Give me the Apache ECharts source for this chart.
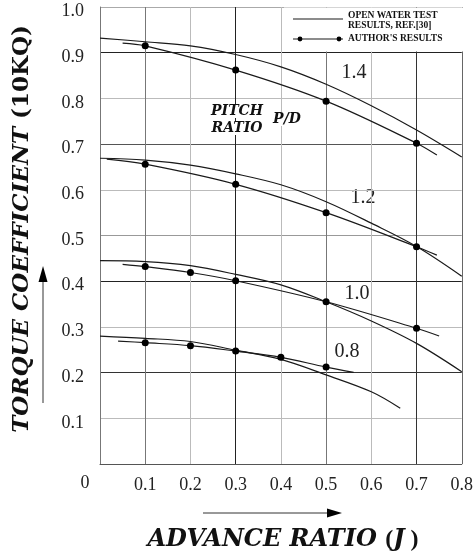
<!DOCTYPE html>
<html>
<head>
<meta charset="utf-8">
<script src="https://cdn.jsdelivr.net/npm/echarts@6/dist/echarts.min.js"></script>
<style>
  html, body { margin: 0; padding: 0; background: #fff; }
  #chart { width: 476px; height: 557px; }
</style>
</head>
<body>
<div id="chart"></div>
<script>
// advance ratio J (x) and torque coefficient 10KQ (y)
var pitchRatios = ['1.4', '1.2', '1.0', '0.8'];

// open water test results (plain curves)
var openJ = [0, 0.1, 0.2, 0.3, 0.4, 0.5, 0.6, 0.7, 0.8];
var open14 = [0.932, 0.924, 0.915, 0.896, 0.869, 0.831, 0.784, 0.731, 0.672];
var open12 = [0.669, 0.665, 0.654, 0.635, 0.611, 0.574, 0.527, 0.476, 0.411];
var open10 = [0.445, 0.443, 0.434, 0.415, 0.392, 0.355, 0.313, 0.264, 0.202];
var openJ08 = [0, 0.1, 0.2, 0.3, 0.4, 0.5, 0.6, 0.664];
var open08 = [0.280, 0.275, 0.268, 0.249, 0.229, 0.195, 0.158, 0.122];

// author's results: first and last point are curve ends, the rest are dots
var authJ14 = [0.05, 0.1, 0.3, 0.5, 0.7, 0.745];
var auth14 = [0.921, 0.915, 0.862, 0.794, 0.702, 0.676];
var authJ12 = [0.015, 0.1, 0.3, 0.5, 0.7, 0.745];
var auth12 = [0.667, 0.656, 0.612, 0.550, 0.4755, 0.457];
var authJ10 = [0.05, 0.1, 0.2, 0.3, 0.5, 0.7, 0.75];
var auth10 = [0.437, 0.432, 0.419, 0.401, 0.355, 0.297, 0.280];
var authJ08 = [0.04, 0.1, 0.2, 0.3, 0.4, 0.5, 0.561];
var auth08 = [0.269, 0.2655, 0.259, 0.247, 0.2335, 0.212, 0.2006];

var xTicks = ['0.1', '0.2', '0.3', '0.4', '0.5', '0.6', '0.7', '0.8'];
var yTicks = ['0.1', '0.2', '0.3', '0.4', '0.5', '0.6', '0.7', '0.8', '0.9', '1.0'];

var ink = '#1a1a1a';
var serif = '"Liberation Serif", "Times New Roman", serif';
var boldItalic = '"DejaVu Serif", serif';

function pairs(xs, ys) {
  return xs.map(function (x, i) { return [x, ys[i]]; });
}

function openSeries(xs, ys) {
  return {
    type: 'line', smooth: 0.35, showSymbol: false, silent: true,
    lineStyle: { color: ink, width: 1.2 },
    data: pairs(xs, ys)
  };
}

function authorSeries(xs, ys) {
  var data = pairs(xs, ys).map(function (p, i) {
    var end = (i === 0 || i === xs.length - 1);
    return { value: p, symbol: end ? 'none' : 'circle' };
  });
  return {
    type: 'line', smooth: 0.35, silent: true,
    symbolSize: 7,
    itemStyle: { color: '#000' },
    lineStyle: { color: ink, width: 1.2 },
    data: data
  };
}

var chart = echarts.init(document.getElementById('chart'), null, { renderer: 'canvas' });

var option = {
  backgroundColor: '#ffffff',
  animation: false,
  grid: { left: 100, right: 10, top: 7, bottom: 93, containLabel: false },
  xAxis: {
    type: 'value', min: 0, max: 0.8, interval: 0.1,
    axisLine: { show: true, lineStyle: { color: '#555', width: 1 } },
    axisTick: { show: false },
    axisLabel: {
      margin: 12, color: '#222', fontFamily: serif, fontSize: 18,
      formatter: function (v) {
        var s = v.toFixed(1);
        return xTicks.indexOf(s) >= 0 ? s : '';
      }
    },
    splitLine: {
      show: true,
      lineStyle: {
        width: 1,
        color: ['#555', '#777', '#bbb', '#222', '#bbb', '#777', '#bbb', '#333', '#666']
      }
    }
  },
  yAxis: {
    type: 'value', min: 0, max: 1, interval: 0.1,
    axisLine: { show: true, lineStyle: { color: '#777', width: 1 } },
    axisTick: { show: false },
    axisLabel: {
      margin: 16, color: '#222', fontFamily: serif, fontSize: 18,
      formatter: function (v) {
        var s = v.toFixed(1);
        return yTicks.indexOf(s) >= 0 ? '{v|' + s + '}' : '';
      },
      rich: {
        v: { fontFamily: serif, fontSize: 18, color: '#222', padding: [9, 0, 0, 0] }
      }
    },
    splitLine: {
      show: true,
      lineStyle: {
        width: 1,
        color: ['#555', '#bbb', '#333', '#bbb', '#222', '#999', '#bbb', '#555', '#bbb', '#222', '#aaa']
      }
    }
  },
  series: [
    openSeries(openJ, open14),
    authorSeries(authJ14, auth14),
    openSeries(openJ, open12),
    authorSeries(authJ12, auth12),
    openSeries(openJ, open10),
    authorSeries(authJ10, auth10),
    openSeries(openJ08, open08),
    authorSeries(authJ08, auth08)
  ],
  graphic: [
    // legend box
    { type: 'rect', z: 100, shape: { x: 284, y: 7.5, width: 181.5, height: 44 },
      style: { fill: '#fff' } },
    { type: 'line', z: 101, shape: { x1: 293, y1: 19, x2: 343, y2: 19 },
      style: { stroke: ink, lineWidth: 1.2 } },
    { type: 'line', z: 101, shape: { x1: 293, y1: 39, x2: 343, y2: 39 },
      style: { stroke: ink, lineWidth: 1.2 } },
    { type: 'circle', z: 101, shape: { cx: 300, cy: 39, r: 2.4 }, style: { fill: '#000' } },
    { type: 'circle', z: 101, shape: { cx: 339, cy: 39, r: 2.4 }, style: { fill: '#000' } },
    { type: 'text', z: 101, x: 348, y: 16,
      style: { text: 'OPEN WATER TEST', font: 'bold 9.5px ' + serif, fill: '#111', textVerticalAlign: 'middle' } },
    { type: 'text', z: 101, x: 348, y: 26,
      style: { text: 'RESULTS, REF.[30]', font: 'bold 9.5px ' + serif, fill: '#111', textVerticalAlign: 'middle' } },
    { type: 'text', z: 101, x: 348, y: 39,
      style: { text: "AUTHOR'S RESULTS", font: 'bold 9.5px ' + serif, fill: '#111', textVerticalAlign: 'middle' } },

    // pitch ratio labels on the curves
    { type: 'text', x: 354, y: 73,
      style: { text: pitchRatios[0], font: '20px ' + serif, fill: '#222', textAlign: 'center', textVerticalAlign: 'middle' } },
    { type: 'text', x: 363, y: 198,
      style: { text: pitchRatios[1], font: '20px ' + serif, fill: '#222', textAlign: 'center', textVerticalAlign: 'middle' } },
    { type: 'text', x: 357, y: 294,
      style: { text: pitchRatios[2], font: '20px ' + serif, fill: '#222', textAlign: 'center', textVerticalAlign: 'middle' } },
    { type: 'text', x: 347, y: 352,
      style: { text: pitchRatios[3], font: '20px ' + serif, fill: '#222', textAlign: 'center', textVerticalAlign: 'middle' } },

    { type: 'text', z: 50, x: 237, y: 111,
      style: { text: 'PITCH', font: 'italic bold 14px ' + boldItalic, fill: '#111', backgroundColor: '#fff',
        textAlign: 'center', textVerticalAlign: 'middle' } },
    { type: 'text', z: 50, x: 237, y: 128,
      style: { text: 'RATIO', font: 'italic bold 14px ' + boldItalic, fill: '#111', backgroundColor: '#fff',
        textAlign: 'center', textVerticalAlign: 'middle' } },
    { type: 'text', z: 50, x: 287, y: 119,
      style: { text: 'P/D', font: 'italic bold 14px ' + boldItalic, fill: '#111', backgroundColor: '#fff',
        textAlign: 'center', textVerticalAlign: 'middle' } },

    // origin label
    { type: 'text', x: 85, y: 483,
      style: { text: '0', font: '18px ' + serif, fill: '#222', textAlign: 'center', textVerticalAlign: 'middle' } },

    // x axis title and arrow
    { type: 'line', shape: { x1: 203, y1: 513, x2: 330, y2: 513 }, style: { stroke: '#333', lineWidth: 1 } },
    { type: 'polygon', shape: { points: [[342, 513], [327, 508.5], [327, 517.5]] }, style: { fill: '#000' } },
    { type: 'text', x: 283, y: 540,
      style: {
        text: '{a|ADVANCE RATIO }{b|(}{a|J}{b| )}',
        rich: {
          a: { font: 'italic bold 24px ' + boldItalic, fill: '#111' },
          b: { font: 'bold 24px ' + serif, fill: '#111' }
        },
        textAlign: 'center', textVerticalAlign: 'middle'
      } },

    // y axis title and arrow
    { type: 'line', shape: { x1: 43, y1: 403, x2: 43, y2: 280 }, style: { stroke: '#333', lineWidth: 1 } },
    { type: 'polygon', shape: { points: [[43, 266], [38.5, 282], [47.5, 282]] }, style: { fill: '#000' } },
    { type: 'text', x: 22, y: 229, rotation: Math.PI / 2,
      style: {
        text: '{a|TORQUE COEFFICIENT }{b|(10KQ)}',
        rich: {
          a: { font: 'italic bold 23px ' + boldItalic, fill: '#111' },
          b: { font: 'bold 23px ' + boldItalic, fill: '#111' }
        },
        textAlign: 'center', textVerticalAlign: 'middle'
      } }
  ]
};

chart.setOption(option);
</script>
</body>
</html>
